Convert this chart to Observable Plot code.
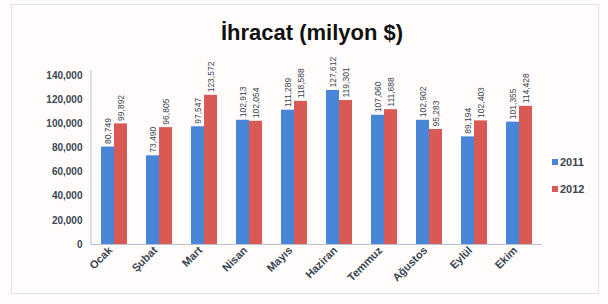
<!DOCTYPE html>
<html>
<head>
<meta charset="utf-8">
<script src="https://cdn.jsdelivr.net/npm/d3@7"></script>
<script src="https://cdn.jsdelivr.net/npm/@observablehq/plot@0.6"></script>
<style>
  html, body { margin: 0; padding: 0; background: #fff; }
  #wrap { position: relative; width: 608px; height: 304px; background: #fffcfb; overflow: hidden;
          font-family: "Liberation Sans", Arial, sans-serif; }
  #box { position: absolute; left: 11px; top: 4px; width: 586px; height: 288px; border: 1px solid #dde2e8; }
  #title { position: absolute; left: 0; width: 624px; top: 20px; text-align: center;
           font-size: 22px; font-weight: bold; color: #111; }
  #chart { position: absolute; left: 0; top: 0; }
  .leg { position: absolute; left: 552px; font-size: 11px; font-weight: bold; color: #3a4552; }
  .leg span { display: inline-block; width: 6px; height: 6px; margin-right: 2px; vertical-align: 1px; }
</style>
</head>
<body>
<div id="wrap">
  <div id="box"></div>
  <div id="chart"></div>
  <div id="title">İhracat (milyon $)</div>
  <div class="leg" style="top:156px"><span style="background:#4a86d8"></span>2011</div>
  <div class="leg" style="top:183px"><span style="background:#d95a55"></span>2012</div>
</div>
<script>
const months = ["Ocak", "Şubat", "Mart", "Nisan", "Mayıs", "Haziran", "Temmuz", "Ağustos", "Eylül", "Ekim"];
const values2011 = [80749, 73490, 97547, 102913, 111289, 127612, 107060, 102902, 89194, 101355];
const values2012 = [99892, 96805, 123572, 102054, 118588, 119301, 111688, 95283, 102403, 114428];
const yTicks = [0, 20000, 40000, 60000, 80000, 100000, 120000, 140000];

const d2011 = months.map((m, i) => ({month: m, value: values2011[i]}));
const d2012 = months.map((m, i) => ({month: m, value: values2012[i]}));
const fmt = d3.format(",");

const leftLine = (index, scales, values, dims) => {
  const g = d3.create("svg:g");
  g.append("line")
    .attr("x1", dims.marginLeft).attr("x2", dims.marginLeft)
    .attr("y1", dims.marginTop - 5).attr("y2", dims.height - dims.marginBottom)
    .attr("stroke", "#b4c2d2");
  return g.node();
};

const chart = Plot.plot({
  width: 608,
  height: 304,
  marginLeft: 91,
  marginRight: 66,
  marginTop: 75,
  marginBottom: 60,
  style: {background: "transparent", fontFamily: "Liberation Sans, Arial, sans-serif"},
  x: {domain: months, paddingInner: 0.425, paddingOuter: 0.2, label: null},
  y: {domain: [0, 140000], ticks: yTicks, label: null},
  marks: [
    Plot.barY(d2011, {x: "month", y: "value", fill: "#4a86d8", insetRight: 13, insetLeft: 0}),
    Plot.barY(d2012, {x: "month", y: "value", fill: "#d95a55", insetLeft: 13, insetRight: 0}),
    Plot.text(d2011, {x: "month", y: "value", text: d => fmt(d.value), rotate: -90, textAnchor: "start",
      dx: -6.5, dy: -3, fontSize: 8.5, fill: "#3a4552"}),
    Plot.text(d2012, {x: "month", y: "value", text: d => fmt(d.value), rotate: -90, textAnchor: "start",
      dx: 6.5, dy: -3, fontSize: 8.5, fill: "#3a4552"}),
    Plot.ruleY([0], {stroke: "#b4c2d2"}),
    leftLine,
    Plot.axisY({ticks: yTicks, tickFormat: d => fmt(d), tickSize: 0, tickPadding: 9, fontSize: 10,
      fontWeight: "bold", fill: "#3a4552", label: null}),
    Plot.axisX({tickRotate: -45, tickSize: 0, tickPadding: 4, dx: -4, fontSize: 11, fontWeight: "bold",
      fill: "#3a4552", label: null})
  ]
});
document.getElementById("chart").appendChild(chart);
</script>
</body>
</html>
